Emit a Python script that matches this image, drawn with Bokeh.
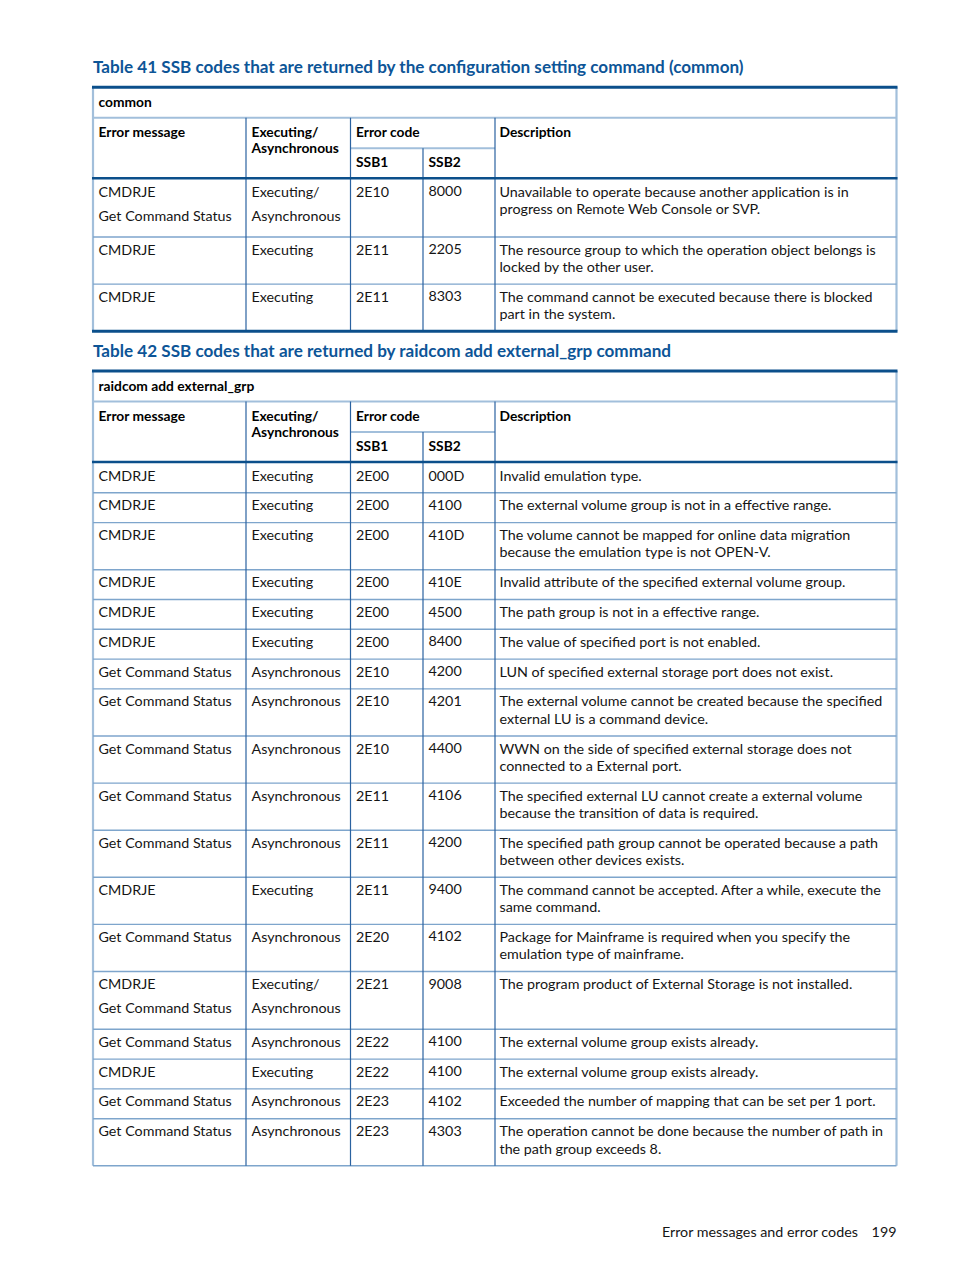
from bokeh.plotting import figure
from bokeh.models import Range1d
from bokeh.core.properties import value
from bokeh.embed import file_html
from bokeh.resources import INLINE

# ---------------- data ----------------
t41_title = "Table 41 SSB codes that are returned by the configuration setting command (common)"
t41_group = "common"
t41_err = [["CMDRJE", "Get Command Status"], ["CMDRJE"], ["CMDRJE"]]
t41_exe = [["Executing/", "Asynchronous"], ["Executing"], ["Executing"]]
t41_ssb1 = ["2E10", "2E11", "2E11"]
t41_ssb2 = ["8000", "2205", "8303"]
t41_desc = [
    ["Unavailable to operate because another application is in", "progress on Remote Web Console or SVP."],
    ["The resource group to which the operation object belongs is", "locked by the other user."],
    ["The command cannot be executed because there is blocked", "part in the system."],
]

CM = "CMDRJE"
GC = "Get Command Status"
EX = "Executing"
AS = "Asynchronous"
t42_title = "Table 42 SSB codes that are returned by raidcom add external_grp command"
t42_group = "raidcom add external_grp"
t42_err = [[CM], [CM], [CM], [CM], [CM], [CM], [GC], [GC], [GC], [GC], [GC], [CM], [GC],
           [CM, GC], [GC], [CM], [GC], [GC]]
t42_exe = [[EX], [EX], [EX], [EX], [EX], [EX], [AS], [AS], [AS], [AS], [AS], [EX], [AS],
           ["Executing/", AS], [AS], [EX], [AS], [AS]]
t42_ssb1 = ["2E00", "2E00", "2E00", "2E00", "2E00", "2E00", "2E10", "2E10", "2E10", "2E11",
            "2E11", "2E11", "2E20", "2E21", "2E22", "2E22", "2E23", "2E23"]
t42_ssb2 = ["000D", "4100", "410D", "410E", "4500", "8400", "4200", "4201", "4400", "4106",
            "4200", "9400", "4102", "9008", "4100", "4100", "4102", "4303"]
t42_desc = [
    ["Invalid emulation type."],
    ["The external volume group is not in a effective range."],
    ["The volume cannot be mapped for online data migration", "because the emulation type is not OPEN-V."],
    ["Invalid attribute of the specified external volume group."],
    ["The path group is not in a effective range."],
    ["The value of specified port is not enabled."],
    ["LUN of specified external storage port does not exist."],
    ["The external volume cannot be created because the specified", "external LU is a command device."],
    ["WWN on the side of specified external storage does not", "connected to a External port."],
    ["The specified external LU cannot create a external volume", "because the transition of data is required."],
    ["The specified path group cannot be operated because a path", "between other devices exists."],
    ["The command cannot be accepted. After a while, execute the", "same command."],
    ["Package for Mainframe is required when you specify the", "emulation type of mainframe."],
    ["The program product of External Storage is not installed."],
    ["The external volume group exists already."],
    ["The external volume group exists already."],
    ["Exceeded the number of mapping that can be set per 1 port."],
    ["The operation cannot be done because the number of path in", "the path group exceeds 8."],
]

header_labels = ["Error message", "Executing/", "Asynchronous", "Error code", "SSB1", "SSB2", "Description"]
footer_text = "Error messages and error codes"
page_number = "199"

# ---------------- style / layout ----------------
W, H = 936, 1253
OFF = 0  # page coordinates of the figure's top-left corner
TITLE_COLOR = "#0d5597"
THICK = "#0b4f8b"
LIGHT = "#a2bfdb"
ROWLINE = "#7ea5cc"
VLINE = "#2a62a0"
BODY_FONT = "Lato"
COLS = [92.5, 245.5, 350, 422.5, 494.5, 896]
PAD = 5.5

p = figure(width=W, height=H, x_range=Range1d(OFF, OFF + W), y_range=Range1d(OFF + H, OFF),
           output_backend="svg", toolbar_location=None, min_border=0)
p.axis.visible = False
p.grid.visible = False
p.outline_line_color = None
p.background_fill_color = "white"
p.border_fill_color = "white"

texts = {"title": ([], [], []), "hdr": ([], [], []), "body": ([], [], [])}
segs = {}


def add_text(kind, x, y, t):
    xs, ys, ts = texts[kind]
    xs.append(x)
    ys.append(y)
    ts.append(t)


def add_seg(style, x0, y0, x1, y1):
    segs.setdefault(style, ([], [], [], []))
    a, b, c, d = segs[style]
    a.append(x0); b.append(y0); c.append(x1); d.append(y1)


def draw_table(top, title, group, err, exe, s1, s2, desc, bottom_thick):
    L, c1, c2, c3, c4, R = COLS
    add_text("title", L, top - 20.5, title)
    add_seg("thick3", L - 1, top, R + 1, top)
    g_top = top + 1.5
    g_bot = g_top + 29
    add_text("hdr", L + PAD, g_top + 13, group)
    add_seg("light", L, g_bot, R, g_bot)
    h_mid = g_bot + 30.5
    h_bot = h_mid + 30
    add_text("hdr", L + PAD, g_bot + 13.8, header_labels[0])
    add_text("hdr", c1 + PAD, g_bot + 13.8, header_labels[1])
    add_text("hdr", c1 + PAD, g_bot + 29.8, header_labels[2])
    add_text("hdr", c2 + PAD, g_bot + 13.8, header_labels[3])
    add_text("hdr", c2 + PAD, h_mid + 13.3, header_labels[4])
    add_text("hdr", c3 + PAD, h_mid + 13.3, header_labels[5])
    add_text("hdr", c4 + PAD - 1, g_bot + 13.8, header_labels[6])
    add_seg("light", c2, h_mid, c4, h_mid)
    for cx in (c1, c2, c4):
        add_seg("v", cx, g_bot, cx, h_bot)
    add_seg("v", c3, h_mid, c3, h_bot)
    add_seg("thick2", L - 1, h_bot, R + 1, h_bot)
    y = h_bot + 1
    n = len(err)
    for i in range(n):
        n_par = max(len(err[i]), len(exe[i]))
        n_desc = len(desc[i])
        h = max(29.8 + 17.3 * (n_desc - 1), 29.8 + 28 * (n_par - 1))
        for k, t in enumerate(err[i]):
            add_text("body", L + PAD, y + 12 + 24 * k, t)
        for k, t in enumerate(exe[i]):
            add_text("body", c1 + PAD, y + 12 + 24 * k, t)
        add_text("body", c2 + PAD, y + 12, s1[i])
        add_text("body", c3 + PAD, y + 12, s2[i])
        for k, t in enumerate(desc[i]):
            add_text("body", c4 + PAD - 1, y + 12 + 17.3 * k, t)
        y += h
        if i < n - 1:
            add_seg("row", L, y, R, y)
    if bottom_thick:
        add_seg("thick3", L - 1, y, R + 1, y)
    else:
        add_seg("row", L, y, R, y)
    for cx in (c1, c2, c3, c4):
        add_seg("v", cx, h_bot, cx, y)
    add_seg("border", L, top, L, y)
    add_seg("border", R, top, R, y)
    return y


draw_table(86.75, t41_title, t41_group, t41_err, t41_exe, t41_ssb1, t41_ssb2, t41_desc, True)
draw_table(370.5, t42_title, t42_group, t42_err, t42_exe, t42_ssb1, t42_ssb2, t42_desc, False)

seg_styles = {
    "border": (LIGHT, 2.2),
    "light": (LIGHT, 2.0),
    "row": (ROWLINE, 1.4),
    "v": (VLINE, 1.2),
    "thick2": (THICK, 2.5),
    "thick3": (THICK, 3.0),
}
for name, (col, lw) in seg_styles.items():
    if name in segs:
        a, b, c, d = segs[name]
        p.segment(x0=a, y0=b, x1=c, y1=d, line_color=col, line_width=lw)

xs, ys, ts = texts["title"]
p.text(x=xs, y=ys, text=ts, text_font=value(BODY_FONT), text_font_style="bold",
       text_font_size=value("17.1px"), text_color=TITLE_COLOR, text_baseline="middle")
xs, ys, ts = texts["hdr"]
p.text(x=xs, y=ys, text=ts, text_font=value(BODY_FONT), text_font_style="bold",
       text_font_size=value("13.8px"), text_color="#000000", text_baseline="middle")
xs, ys, ts = texts["body"]
p.text(x=xs, y=ys, text=ts, text_font=value(BODY_FONT),
       text_font_size=value("14.3px"), text_color="#151515", text_baseline="middle")

p.text(x=[858, 896], y=[1231, 1231], text=[footer_text, page_number], text_font=value(BODY_FONT),
       text_font_size=value("14.3px"), text_color="#151515", text_baseline="middle", text_align="right")

open("out.html", "w").write(file_html(p, INLINE))
